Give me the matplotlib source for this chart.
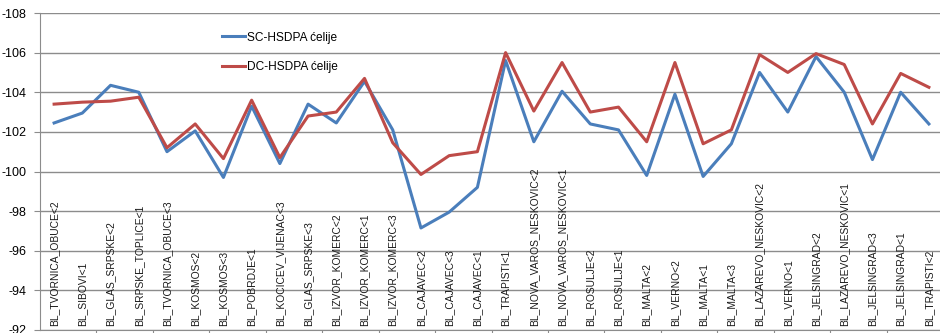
import numpy as np
import matplotlib
matplotlib.use("Agg")
import matplotlib.pyplot as plt

# === Data ===
cells = [
    "BL_TVORNICA_OBUCE<2", "BL_SIBOVI<1", "BL_GLAS_SRPSKE<2", "BL_SRPSKE_TOPLICE<1",
    "BL_TVORNICA_OBUCE<3", "BL_KOSMOS<2", "BL_KOSMOS<3", "BL_POBRDJE<1",
    "BL_KOCICEV_VIJENAC<3", "BL_GLAS_SRPSKE<3", "BL_IZVOR_KOMERC<2", "BL_IZVOR_KOMERC<1",
    "BL_IZVOR_KOMERC<3", "BL_CAJAVEC<2", "BL_CAJAVEC<3", "BL_CAJAVEC<1",
    "BL_TRAPISTI<1", "BL_NOVA_VAROS_NESKOVIC<2", "BL_NOVA_VAROS_NESKOVIC<1", "BL_ROSULJE<2",
    "BL_ROSULJE<1", "BL_MALTA<2", "BL_VERNO<2", "BL_MALTA<1",
    "BL_MALTA<3", "BL_LAZAREVO_NESKOVIC<2", "BL_VERNO<1", "BL_JELSINGRAD<2",
    "BL_LAZAREVO_NESKOVIC<1", "BL_JELSINGRAD<3", "BL_JELSINGRAD<1", "BL_TRAPISTI<2",
]
sc_hsdpa = [
    -102.45, -102.95, -104.35, -104.0, -101.0, -102.05, -99.7, -103.3,
    -100.4, -103.4, -102.45, -104.55, -102.1, -97.15, -97.95, -99.2,
    -105.6, -101.5, -104.05, -102.4, -102.1, -99.8, -103.9, -99.75,
    -101.4, -105.0, -103.0, -105.8, -104.0, -100.6, -104.0, -102.4,
]
dc_hsdpa = [
    -103.4, -103.5, -103.55, -103.75, -101.2, -102.4, -100.65, -103.6,
    -100.7, -102.8, -103.0, -104.7, -101.45, -99.85, -100.8, -101.0,
    -106.0, -103.05, -105.5, -103.0, -103.25, -101.5, -105.5, -101.4,
    -102.1, -105.9, -105.0, -105.95, -105.4, -102.4, -104.95, -104.25,
]
y_ticks = [-108, -106, -104, -102, -100, -98, -96, -94, -92]

BLUE = "#4a7ebb"
RED = "#be4b48"

plt.rcParams["font.family"] = ["Liberation Sans", "DejaVu Sans"]

fig = plt.figure(figsize=(9.4, 3.33), dpi=100)
ax = fig.add_axes([40 / 940, 3 / 333, 903 / 940, 317 / 333])

x = np.arange(len(cells))
ax.plot(x, sc_hsdpa, color=BLUE, lw=2.2, label="SC-HSDPA ćelije")
ax.plot(x, dc_hsdpa, color=RED, lw=2.2, label="DC-HSDPA ćelije")

ax.set_xlim(-0.5, len(cells) - 0.5)
ax.set_ylim(-92, -108)
ax.set_yticks(y_ticks)
ax.set_yticklabels([str(t) for t in y_ticks], fontsize=9)
ax.grid(axis="y", color="#8c8c8c", lw=1)
ax.set_axisbelow(True)

# category labels sit inside the plot area, rotated
for i, name in enumerate(cells):
    ax.text(i, -92.2, name, rotation=90, ha="center", va="bottom",
            fontsize=7.4, color="#1a1a1a",
            family=["Liberation Sans Narrow", "Liberation Sans"])

# tick marks every second category boundary
ax.set_xticks(np.arange(1.5, len(cells), 2))
ax.set_xticklabels([])
ax.tick_params(axis="x", length=4, color="#8c8c8c", direction="out")
ax.tick_params(axis="y", length=4, color="#8c8c8c", pad=6)

for side in ["top", "right"]:
    ax.spines[side].set_visible(False)
ax.spines["left"].set_color("#8c8c8c")
ax.spines["bottom"].set_color("#8c8c8c")

leg = ax.legend(loc="upper left", bbox_to_anchor=(0.19, 0.975), frameon=False,
                fontsize=8.6, handlelength=1.9, handletextpad=0.2, labelspacing=1.45)

fig.savefig("out.png", dpi=100)
